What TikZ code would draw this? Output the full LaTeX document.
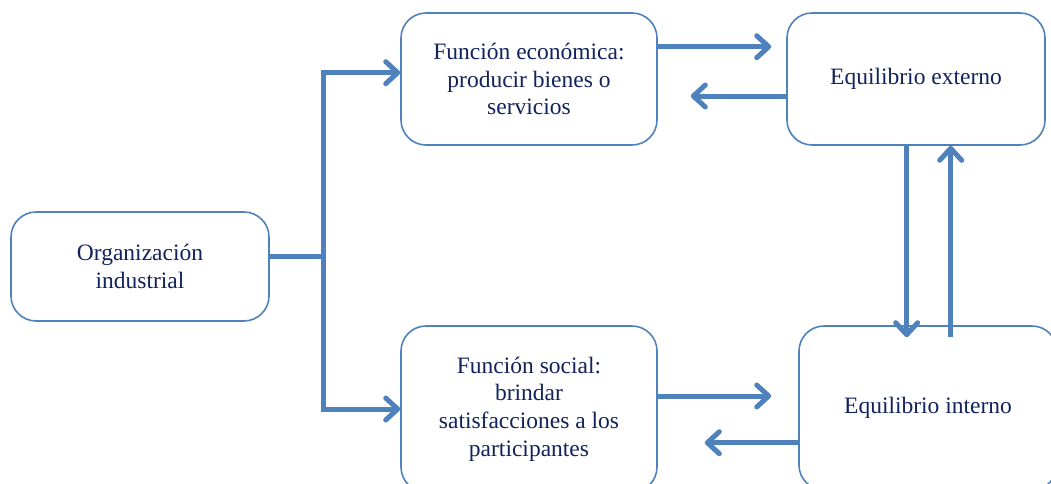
\documentclass[tikz,border=0pt]{standalone}
\usepackage{fontspec}
\setmainfont{Liberation Serif}
\usepackage{xcolor}
\usetikzlibrary{positioning, arrows.meta}

\definecolor{azul}{RGB}{79,129,189}
\definecolor{texto}{RGB}{18,34,92}

\begin{document}
\begin{tikzpicture}[x=1pt, y=-1pt,
  caja/.style={draw=azul, line width=1.6pt, rounded corners=25pt, align=center,
    text=texto, font=\fontsize{23.5}{27.7}\selectfont, inner sep=0pt},
  flecha/.style={draw=azul, line width=5pt,
    -{Straight Barb[length=12pt, width=22pt, line cap=round, line join=round]}},
  linea/.style={draw=azul, line width=5pt}]

% Marco de la figura (recortado como el original)
\useasboundingbox (0,0) rectangle (1051,483);
\clip (0,0) rectangle (1051,483);

% Cajas
\node[caja, minimum width=258pt, minimum height=109pt] (org) at (140,266.5) {Organización\\industrial};  % Caja de la izquierda
\node[caja, minimum width=256pt, minimum height=132pt] (eco) at (529,79) {Función económica:\\producir bienes o\\servicios};
\node[caja, minimum width=258pt, minimum height=132pt] (ext) at (916,79) {Equilibrio externo};
\node[caja, minimum width=256pt, minimum height=166pt] (soc) at (529,409) {Función social:\\brindar\\satisfacciones a los\\participantes};
\node[caja, minimum width=258pt, minimum height=164pt] (int) at (928,408) {Equilibrio interno};

% Rama desde la organización
\draw[linea] ([yshift=10.5pt]org.east) -- ++(54,0) coordinate (rama);
\draw[flecha] (rama) |- ([yshift=6.3pt]eco.west);
\draw[flecha] (rama) |- (soc.west);

% Flechas entre las funciones y los equilibrios
\draw[flecha] ([yshift=32.3pt]eco.east) -- ([yshift=32.3pt, xshift=-15pt]ext.west);
\draw[flecha] ([yshift=-17pt]ext.west) -- ([yshift=-17pt, xshift=33pt]eco.east);
\draw[flecha] ([yshift=13pt]soc.east) -- ([yshift=12pt, xshift=-27pt]int.west);
\draw[flecha] ([yshift=-34.7pt]int.west) -- ([yshift=-33.7pt, xshift=47pt]soc.east);

% Flechas verticales entre los equilibrios
\draw[flecha] ([xshift=-9.3pt]ext.south) -- ([xshift=-21.3pt, yshift=-12pt]int.north);
\draw[flecha] ([xshift=22.7pt, yshift=-12pt]int.north) -- ([xshift=34.7pt]ext.south);

\end{tikzpicture}
\end{document}
